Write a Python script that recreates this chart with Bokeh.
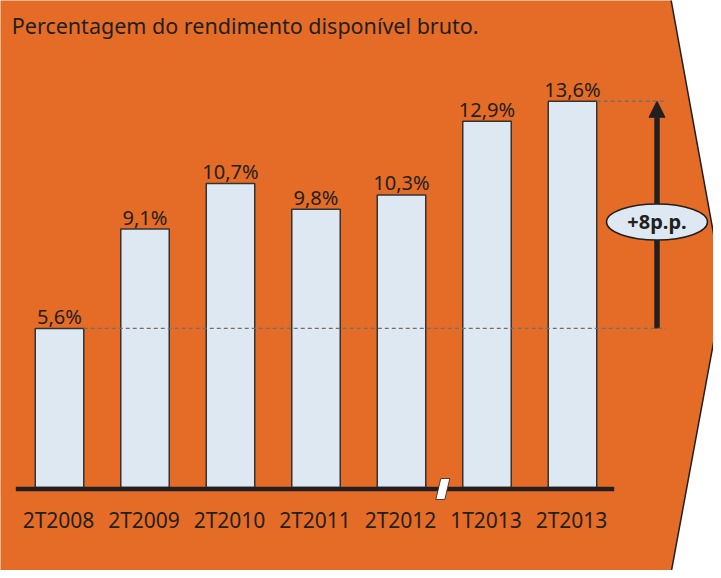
from bokeh.plotting import figure
from bokeh.models import Range1d, Arrow, NormalHead
from bokeh.core.properties import value
from bokeh.embed import file_html
from bokeh.resources import INLINE

# ---- data ----
categories = ["2T2008", "2T2009", "2T2010", "2T2011", "2T2012", "1T2013", "2T2013"]
values = [5.6, 9.1, 10.7, 9.8, 10.3, 12.9, 13.6]
title_text = "Percentagem do rendimento disponível bruto."

value_labels = [f"{v:.1f}".replace(".", ",") + "%" for v in values]
delta_label = f"+{round(values[-1] - values[0])}p.p."

# ---- style / layout ----
ORANGE = "#E56C26"
DARK = "#231F20"
BAR = "#DEE8F3"
FONT = value("Noto Sans")
TS = -8          # text baseline correction (svg renders alphabetic lower)

X0 = 67.0        # reference-pixel centre of first bar
PITCH = 85.5     # pixels between bar centres
BAR_W = 48.5     # bar width in pixels
Y0 = 495.0       # reference-pixel of value 0
PPU = 28.4       # pixels per percentage point


def px2idx(px):
    return (px - X0) / PITCH


idx = list(range(len(categories)))

p = figure(width=713, height=570,
           x_range=Range1d(px2idx(8), px2idx(721)),
           y_range=Range1d((Y0 - 578) / PPU, (Y0 - 8) / PPU),
           output_backend="svg", toolbar_location=None,
           x_axis_location=None, y_axis_location=None,
           min_border=0, outline_line_color=None,
           background_fill_color="white", border_fill_color="white")
p.extra_x_ranges = {"px": Range1d(8, 721)}
p.extra_y_ranges = {"px": Range1d(578, 8)}
p.grid.visible = False

# orange chevron background
p.patch(x=[2.7, 678, 731, 676.8, 2.7], y=[4.3, 4.3, 296, 590, 590],
        x_range_name="px", y_range_name="px",
        fill_color=ORANGE, line_color=DARK, line_width=1.5, level="underlay")

# arrow +8 p.p.
ax = px2idx(664.5)
p.add_layout(Arrow(end=NormalHead(size=16, fill_color=DARK, line_color=DARK, line_width=1),
                   x_start=ax, y_start=values[0], x_end=ax, y_end=values[-1],
                   line_width=5.5, line_color=DARK, level="underlay"))

# bars
hw = BAR_W / PITCH / 2
p.vbar(x=idx, top=values, bottom=0, width=BAR_W / PITCH,
       fill_color=BAR, line_color="#333333", line_width=1.5)

# dashed reference lines
xe = px2idx(673)
p.segment(x0=[idx[0] + hw, idx[-1] + hw], y0=[values[0], values[-1]],
          x1=[xe, xe], y1=[values[0], values[-1]],
          line_color="#707070", line_width=1.3, line_dash="4 3")

# baseline
p.quad(left=[23.3], right=[621.7], top=[494.3], bottom=[498.7],
       x_range_name="px", y_range_name="px", fill_color=DARK, line_color=None)

# axis break mark
p.patch(x=[448.3, 457.3, 452.3, 443.3], y=[486, 486, 507, 507],
        x_range_name="px", y_range_name="px",
        fill_color="white", line_color=DARK, line_width=0.8)

# value labels
p.text(x=idx, y=values, text=value_labels, text_align="center",
       text_baseline="alphabetic", y_offset=-4 + TS, text_font=FONT,
       text_font_size="20px", text_color=DARK)

# category labels
p.text(x=idx, y=[535] * len(idx), y_range_name="px", text=categories,
       text_align="center", text_baseline="alphabetic", x_offset=-1, y_offset=TS,
       text_font=FONT, text_font_size="21px", text_color=DARK)

# ellipse label
p.ellipse(x=[664.5], y=[229.5], width=101, height=36,
          x_range_name="px", y_range_name="px",
          fill_color=BAR, line_color=DARK, line_width=1.5)
p.text(x=[664.5], y=[236.7], text=[delta_label], x_range_name="px", y_range_name="px",
       text_align="center", text_baseline="alphabetic", y_offset=TS, text_font=FONT,
       text_font_style="bold", text_font_size="20px", text_color=DARK)

# title
p.text(x=[19.3], y=[40.7], text=[title_text], x_range_name="px", y_range_name="px",
       text_align="left", text_baseline="alphabetic", y_offset=TS, text_font=FONT,
       text_font_size="21.5px", text_color=DARK)

open("out.html", "w").write(file_html(p, INLINE))
